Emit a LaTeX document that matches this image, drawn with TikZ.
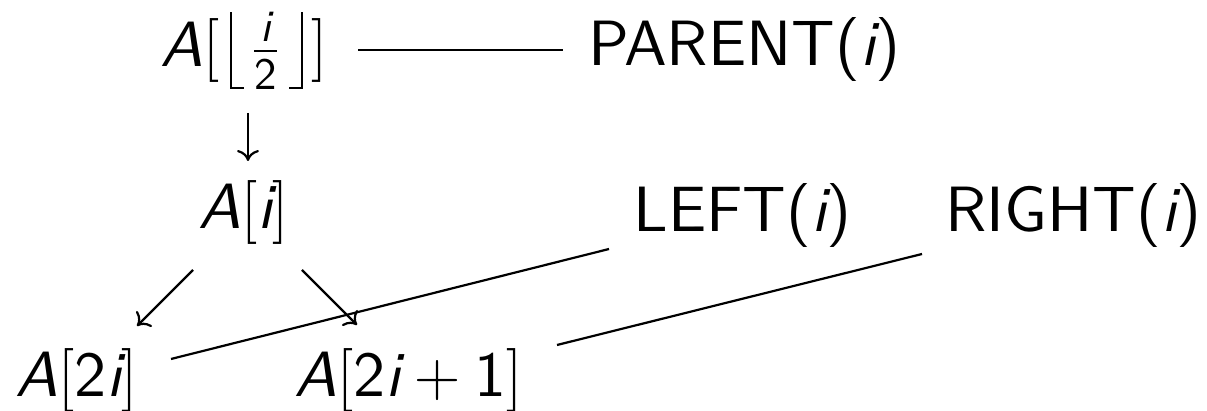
\RequirePackage{fix-cm}
\documentclass[tikz,border=0pt]{standalone}
\usepackage{amsmath}
\usepackage{fontspec}
\setsansfont{lmsans10-regular.otf}[ItalicFont=lmsans10-oblique.otf]
\usetikzlibrary{arrows.meta}
\newcommand\vA{\textsf{\itshape A}}
\newcommand\vi{\textsf{\itshape i}}
\newcommand\dg[1]{\textsf{#1}}
\newcommand\flL{\rule[-11pt]{1pt}{38.5pt}\rule[-11pt]{6pt}{1pt}}
\newcommand\flR{\rule[-11pt]{6pt}{1pt}\rule[-11pt]{1pt}{38.5pt}}
\begin{document}
\begin{tikzpicture}[x=0.5pt,y=-0.5pt,
  lbl/.style={anchor=base west,inner sep=0pt,font=\fontsize{32}{38}\selectfont\sffamily},
  conn/.style={line width=1.1pt},
  arr/.style={conn,-{Computer Modern Rightarrow[length=5.5pt,width=11pt]}}]
\useasboundingbox (0,0) rectangle (1207,411);
\node[lbl] (top) at (160,67) {$\vA[\hspace{5.5pt}\flL\hspace{4pt}\frac{\vi}{\dg{2}}\hspace{5pt}\flR\hspace{4pt}]$};
\node[lbl] (parent) at (588,66) {PARENT($\vi$)};
\node[lbl] (ai) at (198,229) {$\vA[\vi]$};
\node[lbl] (left) at (633,232) {LEFT($\vi$)};
\node[lbl] (right) at (945,232) {RIGHT($\vi$)};
\node[lbl] (a2i) at (15,397) {$\vA[\dg{2}\vi]$};
\node[lbl] (a2i1) at (294,397) {$\vA[\dg{2}\vi+\dg{1}]$};
\coordinate (p1) at (358,50);
\coordinate (p2) at (563,50);
\coordinate (d1) at (248,113);
\coordinate (d2) at (248,161);
\coordinate (sw1) at (193,270);
\coordinate (sw2) at (137,326);
\coordinate (se1) at (302,270);
\coordinate (se2) at (357,325);
\coordinate (l1) at (171,359);
\coordinate (l2) at (609,249);
\coordinate (r1) at (557,345);
\coordinate (r2) at (922,254);
\draw[conn] (p1) -- (p2);
\draw[arr] (d1) -- (d2);
\draw[arr] (sw1) -- (sw2);
\draw[arr] (se1) -- (se2);
\draw[conn] (l1) -- (l2);
\draw[conn] (r1) -- (r2);
\end{tikzpicture}
\end{document}
